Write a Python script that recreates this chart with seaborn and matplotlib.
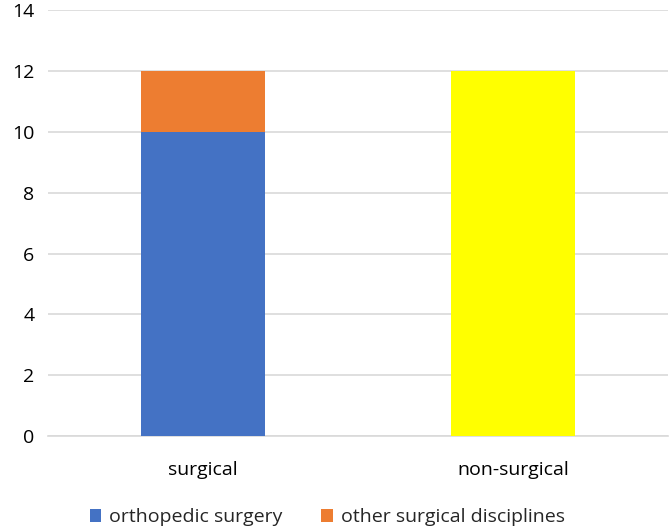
import matplotlib
matplotlib.use("Agg")
import matplotlib.pyplot as plt
import seaborn as sns
import numpy as np
import pandas as pd

categories = ["surgical", "non-surgical"]
orthopedic = [10, 0]
other_surgical = [2, 0]
non_surgical = [0, 12]
y_ticks = [0, 2, 4, 6, 8, 10, 12, 14]

sns.set_theme(style="white")
plt.rcParams["font.family"] = ["Open Sans", "DejaVu Sans"]

fig = plt.figure(figsize=(6.69, 5.32), dpi=100)
ax = fig.add_axes([0.072, 0.18, 0.927, 0.801])

df = pd.DataFrame({
    "category": categories,
    "orthopedic": orthopedic,
    "other": other_surgical,
    "nonsurg": non_surgical,
})

# stacked layers
sns.barplot(data=df, x="category", y="orthopedic", color="#4472C4",
            width=0.4, saturation=1, ax=ax, label="orthopedic surgery",
            linewidth=0, zorder=3)
sns.barplot(data=df, x="category", y="other", color="#ED7D31",
            width=0.4, saturation=1, ax=ax, bottom=np.array(orthopedic),
            label="other surgical disciplines", linewidth=0, zorder=3)
sns.barplot(data=df, x="category", y="nonsurg", color="#FFFF00",
            width=0.4, saturation=1, ax=ax, linewidth=0,
            bottom=np.array(orthopedic) + np.array(other_surgical), zorder=3)

ax.set_xlim(-0.5, 1.5)
ax.set_ylim(0, 14)
ax.set_yticks(y_ticks)
ax.yaxis.grid(True, color="#D9D9D9", linewidth=1.2, zorder=0)
ax.set_axisbelow(True)
for s in ["top", "right", "left"]:
    ax.spines[s].set_visible(False)
ax.spines["bottom"].set_color("#D9D9D9")
ax.spines["bottom"].set_linewidth(1.2)
ax.set_xlabel("")
ax.set_ylabel("")
ax.tick_params(axis="both", length=0, labelsize=14, colors="black")
ax.tick_params(axis="x", pad=18)
ax.tick_params(axis="y", pad=10)

handles, labels = ax.get_legend_handles_labels()
ax.legend(handles, labels, loc="center", bbox_to_anchor=(0.45, -0.19),
          ncol=2, frameon=False, fontsize=14, handlelength=0.6,
          handleheight=0.6, columnspacing=2.0, handletextpad=0.4)

fig.savefig("out.png", dpi=100)
